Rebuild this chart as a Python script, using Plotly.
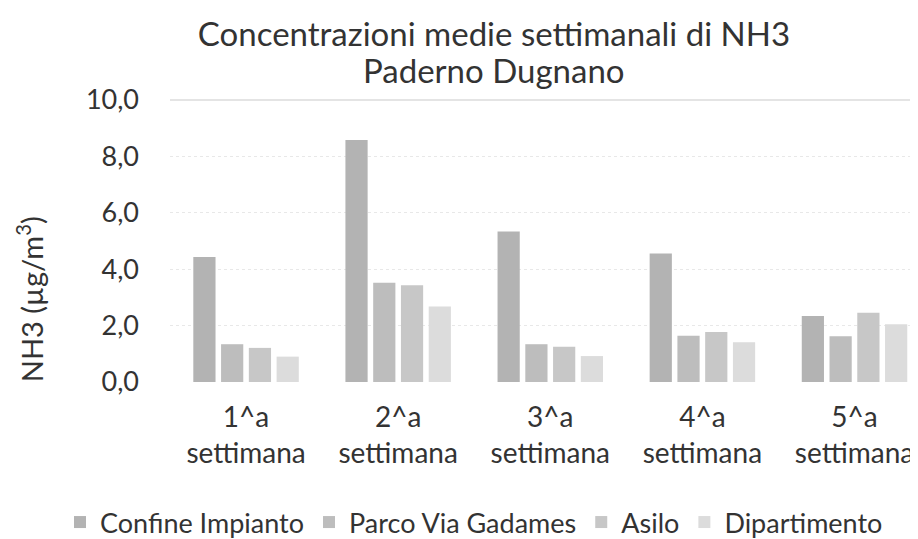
import plotly.graph_objects as go

weeks = ["1^a<br>settimana", "2^a<br>settimana", "3^a<br>settimana", "4^a<br>settimana", "5^a<br>settimana"]
series_names = ["Confine Impianto", "Parco Via Gadames", "Asilo", "Dipartimento"]
confine = [4.43, 8.58, 5.34, 4.56, 2.34]
parco = [1.34, 3.52, 1.34, 1.64, 1.62]
asilo = [1.21, 3.43, 1.25, 1.77, 2.46]
dipartimento = [0.90, 2.68, 0.92, 1.41, 2.05]
y_ticks = [0, 2, 4, 6, 8, 10]
title_lines = ["Concentrazioni medie settimanali di NH3", "Paderno Dugnano"]

values = [confine, parco, asilo, dipartimento]
colors = ["#b3b3b3", "#bdbdbd", "#c7c7c7", "#dcdcdc"]

FONT = "Lato"
TXT = "#333333"
W, H = 918, 539
L, R, T, B = 162, 0, 92, 161
PW, PH = W - L - R, H - T - B

fig = go.Figure()
for name, vals, col in zip(series_names, values, colors):
    fig.add_trace(go.Bar(x=weeks, y=vals, name=name, marker=dict(color=col, line=dict(width=0))))

fig.update_layout(
    width=W, height=H,
    paper_bgcolor="white", plot_bgcolor="white",
    margin=dict(l=L, r=R, t=T, b=B),
    separators=",.",
    barmode="group", bargap=0.27, bargroupgap=0.2,
    font=dict(family=FONT, color=TXT, size=28),
    title=dict(
        text=title_lines[0],
        x=486 / W, xanchor="center", xref="container",
        y=1 - 26 / H, yanchor="middle", yref="container",
        font=dict(family=FONT, size=33, color=TXT),
    ),
    legend=dict(
        orientation="h", xref="paper", yref="paper",
        x=(52 - L) / PW, xanchor="left", y=(H - B - 521) / PH, yanchor="middle",
        font=dict(family=FONT, size=27, color=TXT),
        itemwidth=30, tracegroupgap=0,
    ),
    showlegend=True,
)
fig.update_xaxes(
    range=[-0.5, 4.47], showgrid=False, showline=False, ticks="",
    tickfont=dict(family=FONT, size=28, color=TXT), ticklabelstandoff=16,
)
fig.update_yaxes(
    range=[0, 10], tickvals=y_ticks, tickformat=".1f",
    showgrid=True, gridcolor="#e8e8e8", griddash="dot", gridwidth=1,
    zeroline=False, showline=False, ticks="",
    tickfont=dict(family=FONT, size=27, color=TXT), ticklabelstandoff=30,
)
fig.add_shape(type="line", xref="paper", yref="paper", x0=0, x1=1, y0=1, y1=1,
              line=dict(color="#c9c9c9", width=1))
fig.add_annotation(
    text=title_lines[1], showarrow=False,
    xref="paper", yref="paper", x=(486 - L) / PW, y=(H - B - 62) / PH,
    xanchor="center", yanchor="middle", font=dict(family=FONT, size=33, color=TXT),
)
fig.add_annotation(
    text="NH3 (µg/m<sup>3</sup>)", textangle=-90, showarrow=False,
    xref="paper", yref="paper", x=(22 - L) / PW, y=(H - B - 294) / PH,
    xanchor="center", yanchor="middle", font=dict(family=FONT, size=29, color=TXT),
)
fig.write_html("out.html")
